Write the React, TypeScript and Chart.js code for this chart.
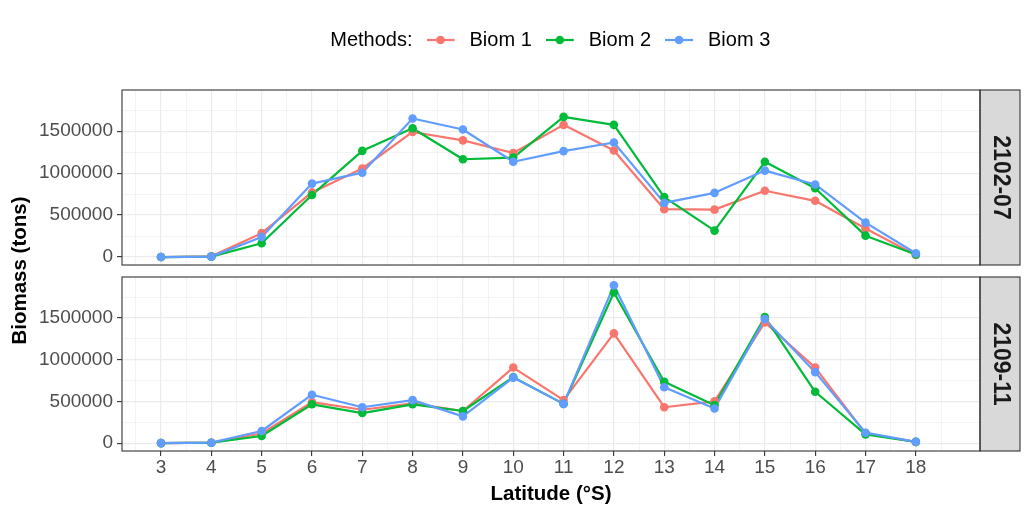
import React, { useEffect, useRef } from 'react';
import { Chart, registerables } from 'chart.js';

Chart.register(...registerables);

// ---------- data ----------
const latitudes = [3, 4, 5, 6, 7, 8, 9, 10, 11, 12, 13, 14, 15, 16, 17, 18];
const methods = ['Biom 1', 'Biom 2', 'Biom 3'];
const methodColors = ['#F8766D', '#00BA38', '#619CFF'];
const panelLabels = ['2102-07', '2109-11'];

const biom1_2102_07 = [0, 10000, 285000, 770000, 1055000, 1490000, 1390000, 1240000, 1575000, 1270000, 570000, 565000, 790000, 670000, 340000, 25000];
const biom2_2102_07 = [0, 5000, 165000, 740000, 1265000, 1535000, 1165000, 1185000, 1670000, 1575000, 715000, 315000, 1135000, 820000, 255000, 30000];
const biom3_2102_07 = [0, 5000, 240000, 875000, 1005000, 1650000, 1520000, 1135000, 1262000, 1365000, 645000, 765000, 1030000, 865000, 410000, 45000];

const biom1_2109_11 = [0, 5000, 115000, 490000, 400000, 475000, 385000, 905000, 515000, 1315000, 430000, 500000, 1445000, 905000, 115000, 15000];
const biom2_2109_11 = [0, 5000, 85000, 465000, 360000, 465000, 385000, 790000, 470000, 1805000, 735000, 455000, 1510000, 615000, 105000, 15000];
const biom3_2109_11 = [0, 5000, 145000, 580000, 430000, 515000, 320000, 785000, 470000, 1890000, 670000, 415000, 1485000, 850000, 125000, 15000];

const yTickLabels = [0, 500000, 1000000, 1500000];
const yMinorBreaks = [250000, 750000, 1250000, 1750000];
const xLimits = [2.225, 19.275];
const yLimits = [-94500, 1990000];

const panelSeries = [
  [biom1_2102_07, biom2_2102_07, biom3_2102_07],
  [biom1_2109_11, biom2_2109_11, biom3_2109_11],
];

// ---------- layout constants ----------
const FONT = "'Liberation Sans', Arial, Helvetica, sans-serif";
const PANEL_TOP_1 = 90;
const PANEL_BOTTOM_2 = 451;
const STRIP_W = 40;
const LEGEND_SHIFT = 38.75;

const xMinorBreaks = latitudes.map((v) => v - 0.5).concat([latitudes[latitudes.length - 1] + 0.5]);
const xGrid = [...latitudes, ...xMinorBreaks].sort((a, b) => a - b);
const yGrid = [...yTickLabels, ...yMinorBreaks].sort((a, b) => a - b);

function keyCanvas(color: string | null) {
  const c = document.createElement('canvas');
  c.width = color ? 33 : 1;
  c.height = 12;
  const ctx = c.getContext('2d')!;
  if (color) {
    ctx.strokeStyle = color;
    ctx.lineWidth = 2.2;
    ctx.beginPath();
    ctx.moveTo(0, 6);
    ctx.lineTo(28, 6);
    ctx.stroke();
    ctx.fillStyle = color;
    ctx.beginPath();
    ctx.arc(14, 6, 4.3, 0, Math.PI * 2);
    ctx.fill();
  }
  return c;
}

const framePlugin = (label: string) => ({
  id: 'frameStrip',
  afterDraw(chart: any) {
    const { ctx, chartArea } = chart;
    const { left, right, top, bottom } = chartArea;
    ctx.save();
    ctx.fillStyle = '#D9D9D9';
    ctx.fillRect(right, top, STRIP_W, bottom - top);
    ctx.strokeStyle = '#333333';
    ctx.lineWidth = 1.1;
    ctx.strokeRect(right, top, STRIP_W, bottom - top);
    ctx.strokeRect(left, top, right - left, bottom - top);
    ctx.translate(right + STRIP_W / 2, (top + bottom) / 2);
    ctx.rotate(Math.PI / 2);
    ctx.fillStyle = '#1A1A1A';
    ctx.font = `bold 23px ${FONT}`;
    ctx.textAlign = 'center';
    ctx.textBaseline = 'middle';
    ctx.fillText(label, 0, 0);
    ctx.restore();
  },
});

const legendShiftPlugin = {
  id: 'legendShift',
  afterLayout(chart: any) {
    const lg = chart.legend;
    if (lg) {
      lg.left += LEGEND_SHIFT;
      lg.right += LEGEND_SHIFT;
    }
  },
};

const yTitlePlugin = {
  id: 'yTitle',
  afterDraw(chart: any) {
    const { ctx } = chart;
    ctx.save();
    ctx.translate(20, (PANEL_TOP_1 + PANEL_BOTTOM_2) / 2);
    ctx.rotate(-Math.PI / 2);
    ctx.fillStyle = '#000000';
    ctx.font = `bold 20.5px ${FONT}`;
    ctx.textAlign = 'center';
    ctx.textBaseline = 'middle';
    ctx.fillText('Biomass (tons)', 0, 0);
    ctx.restore();
  },
};

const isMajorX = (v: number) => latitudes.includes(v);
const isMajorY = (v: number) => yTickLabels.includes(v);

function buildConfig(panel: number): any {
  const isTop = panel === 0;
  const series = panelSeries[panel];
  const datasets: any[] = [];
  series.forEach((vals, i) => {
    datasets.push({
      label: methods[i],
      data: latitudes.map((x, j) => ({ x, y: vals[j] })),
      borderColor: methodColors[i],
      backgroundColor: methodColors[i],
      borderWidth: 2.2,
      borderJoinStyle: 'round',
      borderCapStyle: 'round',
      pointRadius: 0,
      pointHoverRadius: 0,
      showLine: true,
      fill: false,
      tension: 0,
      order: 5 - i,
    });
  });
  series.forEach((vals, i) => {
    datasets.push({
      label: methods[i] + ' points',
      data: latitudes.map((x, j) => ({ x, y: vals[j] })),
      borderColor: methodColors[i],
      backgroundColor: methodColors[i],
      pointBackgroundColor: methodColors[i],
      pointBorderWidth: 0,
      pointRadius: 4.3,
      pointHoverRadius: 4.3,
      showLine: false,
      order: 2 - i,
    });
  });

  const legendLabels = () => [
    {
      text: 'Methods:',
      pointStyle: keyCanvas(null),
      fontColor: '#000000',
      fillStyle: 'rgba(0,0,0,0)',
      strokeStyle: 'rgba(0,0,0,0)',
      lineWidth: 0,
      hidden: false,
      datasetIndex: -1,
    },
    ...methods.map((m, i) => ({
      text: m,
      pointStyle: keyCanvas(methodColors[i]),
      fontColor: '#000000',
      fillStyle: methodColors[i],
      strokeStyle: methodColors[i],
      lineWidth: 0,
      hidden: false,
      datasetIndex: i,
    })),
  ];

  return {
    type: 'line',
    data: { datasets },
    options: {
      responsive: false,
      maintainAspectRatio: false,
      animation: false,
      events: [],
      devicePixelRatio: 1,
      layout: {
        padding: isTop
          ? { top: 16, left: 0, right: 52, bottom: 250 }
          : { top: 277, left: 0, right: 52, bottom: 0 },
      },
      plugins: {
        tooltip: { enabled: false },
        legend: {
          display: isTop,
          position: 'top',
          align: 'center',
          onClick: () => {},
          labels: {
            usePointStyle: true,
            pointStyleWidth: 33,
            padding: 14,
            color: '#000000',
            font: { size: 20, family: FONT },
            generateLabels: legendLabels,
          },
        },
      },
      scales: {
        x: {
          type: 'linear',
          position: isTop ? 'top' : 'bottom',
          min: xLimits[0],
          max: xLimits[1],
          afterBuildTicks: (s: any) => {
            s.ticks = xGrid.map((v) => ({ value: v }));
          },
          afterFit: (s: any) => {
            s.height = isTop ? 30 : 64;
            s.paddingLeft = 0;
            s.paddingRight = 0;
          },
          ticks: {
            display: !isTop,
            autoSkip: false,
            maxRotation: 0,
            minRotation: 0,
            padding: 0,
            color: '#4D4D4D',
            font: { size: 19, family: FONT },
            callback: (v: number) => (isMajorX(v) ? String(v) : ''),
          },
          grid: {
            drawTicks: !isTop,
            tickLength: 5,
            color: () => '#EBEBEB',
            lineWidth: (c: any) => (c.tick && isMajorX(c.tick.value) ? 1.2 : 0.6),
            tickColor: (c: any) => (c.tick && isMajorX(c.tick.value) ? '#333333' : 'rgba(0,0,0,0)'),
            tickWidth: 1.1,
          },
          border: { display: false },
          title: {
            display: !isTop,
            text: 'Latitude (°S)',
            color: '#000000',
            font: { size: 20.5, weight: 'bold', family: FONT },
            padding: { top: 0, bottom: 8 },
          },
        },
        y: {
          type: 'linear',
          position: 'left',
          min: yLimits[0],
          max: yLimits[1],
          afterBuildTicks: (s: any) => {
            s.ticks = yGrid.map((v) => ({ value: v }));
          },
          afterFit: (s: any) => {
            s.width = 122;
            s.paddingTop = 0;
            s.paddingBottom = 0;
          },
          ticks: {
            autoSkip: false,
            padding: 4,
            color: '#4D4D4D',
            font: { size: 19, family: FONT },
            callback: (v: number) => (isMajorY(v) ? String(v) : ''),
          },
          grid: {
            drawTicks: true,
            tickLength: 5,
            color: () => '#EBEBEB',
            lineWidth: (c: any) => (c.tick && isMajorY(c.tick.value) ? 1.2 : 0.6),
            tickColor: (c: any) => (c.tick && isMajorY(c.tick.value) ? '#333333' : 'rgba(0,0,0,0)'),
            tickWidth: 1.1,
          },
          border: { display: false },
        },
      },
    },
    plugins: isTop
      ? [framePlugin(panelLabels[0]), legendShiftPlugin]
      : [framePlugin(panelLabels[1]), yTitlePlugin],
  };
}

export default function App() {
  const topRef = useRef<HTMLCanvasElement>(null);
  const bottomRef = useRef<HTMLCanvasElement>(null);

  useEffect(() => {
    Chart.defaults.font.family = FONT;
    const c2 = new Chart(bottomRef.current!, buildConfig(1));
    const c1 = new Chart(topRef.current!, buildConfig(0));
    return () => {
      c1.destroy();
      c2.destroy();
    };
  }, []);

  return (
    <div style={{ position: 'absolute', left: 0, top: 0, width: 1032, height: 515, background: '#ffffff' }}>
      <canvas ref={bottomRef} width={1032} height={515} style={{ position: 'absolute', left: 0, top: 0 }} />
      <canvas ref={topRef} width={1032} height={515} style={{ position: 'absolute', left: 0, top: 0 }} />
    </div>
  );
}
